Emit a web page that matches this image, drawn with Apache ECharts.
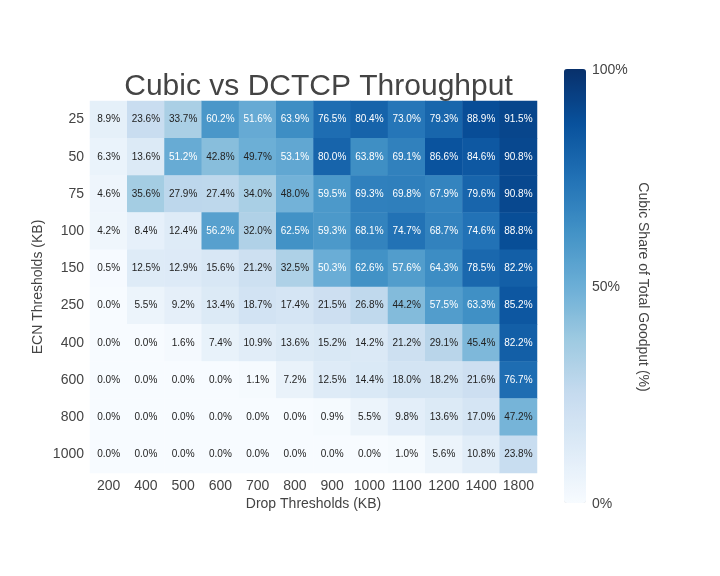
<!DOCTYPE html>
<html>
<head>
<meta charset="utf-8">
<script src="https://cdn.jsdelivr.net/npm/echarts@6/dist/echarts.min.js"></script>
<style>
  html, body { margin: 0; padding: 0; background: #fff; }
  #main { width: 720px; height: 576px; }
</style>
</head>
<body>
<div id="main"></div>
<script>
// drop thresholds along x, ecn thresholds down y
const dropThresholds = ['200', '400', '500', '600', '700', '800', '900', '1000', '1100', '1200', '1400', '1800']
const ecnThresholds = ['25', '50', '75', '100', '150', '250', '400', '600', '800', '1000']

// cubic share (%) per ecn row, one value per drop column
const cubicShare = [
  [8.9, 23.6, 33.7, 60.2, 51.6, 63.9, 76.5, 80.4, 73.0, 79.3, 88.9, 91.5],
  [6.3, 13.6, 51.2, 42.8, 49.7, 53.1, 80.0, 63.8, 69.1, 86.6, 84.6, 90.8],
  [4.6, 35.6, 27.9, 27.4, 34.0, 48.0, 59.5, 69.3, 69.8, 67.9, 79.6, 90.8],
  [4.2, 8.4, 12.4, 56.2, 32.0, 62.5, 59.3, 68.1, 74.7, 68.7, 74.6, 88.8],
  [0.5, 12.5, 12.9, 15.6, 21.2, 32.5, 50.3, 62.6, 57.6, 64.3, 78.5, 82.2],
  [0.0, 5.5, 9.2, 13.4, 18.7, 17.4, 21.5, 26.8, 44.2, 57.5, 63.3, 85.2],
  [0.0, 0.0, 1.6, 7.4, 10.9, 13.6, 15.2, 14.2, 21.2, 29.1, 45.4, 82.2],
  [0.0, 0.0, 0.0, 0.0, 1.1, 7.2, 12.5, 14.4, 18.0, 18.2, 21.6, 76.7],
  [0.0, 0.0, 0.0, 0.0, 0.0, 0.0, 0.9, 5.5, 9.8, 13.6, 17.0, 47.2],
  [0.0, 0.0, 0.0, 0.0, 0.0, 0.0, 0.0, 0.0, 1.0, 5.6, 10.8, 23.8]
]

const colorbarTicks = [0, 50, 100]

// matplotlib Blues
const blues = ['#f7fbff', '#deebf7', '#c6dbef', '#9ecae1', '#6baed6', '#4292c6', '#2171b5', '#08519c', '#08306b']

const textColor = '#444'
const font = 'Liberation Sans'

let cells = []
cubicShare.forEach((row, yi) => {
  row.forEach((v, xi) => {
    cells.push({
      value: [xi, yi, v],
      label: { color: v > 50 ? '#fff' : '#222' }
    })
  })
})

let option = {
  backgroundColor: '#fff',
  animation: false,
  textStyle: { fontFamily: font },
  title: {
    text: 'Cubic vs DCTCP Throughput',
    left: 313.5,
    textAlign: 'center',
    top: 67,
    textStyle: { fontSize: 30, fontWeight: 'normal', color: textColor, fontFamily: font }
  },
  grid: [
    { left: 90, top: 101, width: 447, height: 372 },
    // colorbar axis
    { left: 564, top: 70, width: 22, height: 434 }
  ],
  xAxis: [
    {
      type: 'category',
      data: dropThresholds,
      gridIndex: 0,
      name: 'Drop Thresholds (KB)',
      nameLocation: 'middle',
      nameMoveOverlap: false,
      nameGap: 24,
      nameTextStyle: { fontSize: 14, color: textColor },
      axisLine: { show: false },
      axisTick: { show: false },
      axisLabel: { fontSize: 14, color: textColor, margin: 6, interval: 0 },
      splitArea: { show: false }
    },
    {
      type: 'value',
      gridIndex: 1,
      show: false
    }
  ],
  yAxis: [
    {
      type: 'category',
      data: ecnThresholds,
      inverse: true,
      gridIndex: 0,
      name: 'ECN Thresholds (KB)',
      nameLocation: 'middle',
      nameMoveOverlap: false,
      nameGap: 45,
      nameTextStyle: { fontSize: 14, color: textColor },
      axisLine: { show: false },
      axisTick: { show: false },
      axisLabel: { fontSize: 14, color: textColor, margin: 6, interval: 0 }
    },
    {
      type: 'value',
      gridIndex: 1,
      position: 'right',
      min: colorbarTicks[0],
      max: colorbarTicks[colorbarTicks.length - 1],
      interval: 50,
      name: 'Cubic Share of Total Goodput (%)',
      nameLocation: 'middle',
      nameMoveOverlap: false,
      nameRotate: -90,
      nameGap: 50,
      nameTextStyle: { fontSize: 14, color: textColor },
      axisLine: { show: false },
      axisTick: { show: false },
      splitLine: { show: false },
      axisLabel: { fontSize: 14, color: textColor, margin: 6, formatter: '{value}%' }
    }
  ],
  visualMap: {
    type: 'continuous',
    seriesIndex: 0,
    min: 0,
    max: 100,
    calculable: false,
    orient: 'vertical',
    left: 564,
    top: 69,
    padding: 0,
    itemWidth: 22,
    itemHeight: 434,
    text: null,
    showLabel: false,
    inRange: { color: blues }
  },
  series: [{
    type: 'heatmap',
    xAxisIndex: 0,
    yAxisIndex: 0,
    data: cells,
    label: {
      show: true,
      fontSize: 10,
      fontFamily: font,
      formatter: p => p.value[2].toFixed(1) + '%'
    },
    itemStyle: { borderWidth: 0 },
    emphasis: { disabled: true }
  }]
}

let myChart = echarts.init(document.getElementById('main'))
myChart.setOption(option)
</script>
</body>
</html>
